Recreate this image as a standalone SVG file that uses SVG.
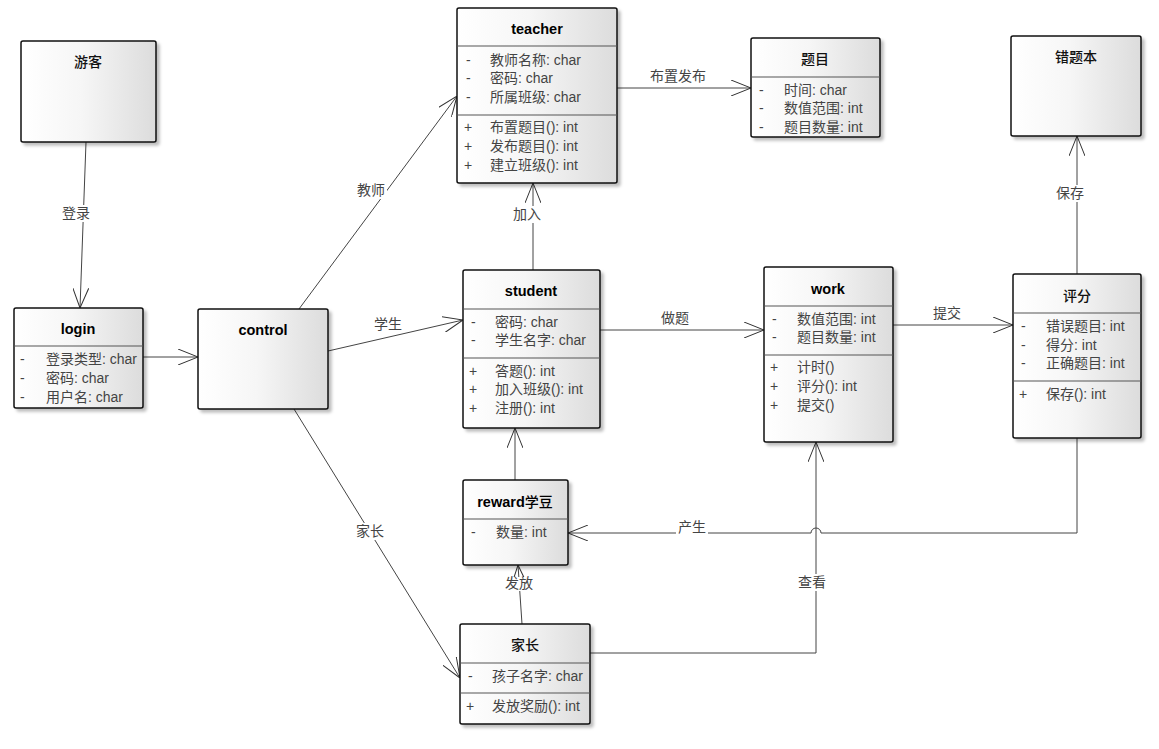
<svg xmlns="http://www.w3.org/2000/svg" width="1159" height="749" viewBox="0 0 1159 749">
<defs>
<linearGradient id="g" x1="0" y1="0" x2="1" y2="0">
<stop offset="0" stop-color="#ffffff"/>
<stop offset="0.45" stop-color="#f6f6f6"/>
<stop offset="1" stop-color="#dcdcdc"/>
</linearGradient>
<filter id="sh" x="-10%" y="-10%" width="130%" height="130%">
<feDropShadow dx="3" dy="3" stdDeviation="1.5" flood-color="#000" flood-opacity="0.25"/>
</filter>
<marker id="arr" viewBox="0 0 20 16" refX="20" refY="8" markerWidth="20" markerHeight="16" markerUnits="userSpaceOnUse" orient="auto">
<path d="M0,0 L20,8 L0,16" fill="none" stroke="#333" stroke-width="1"/>
</marker>
</defs>
<style>
.box{fill:url(#g);stroke:#111;stroke-width:1.5;filter:url(#sh)}
.sep{stroke:#555;stroke-width:1.2}
.t{font-family:"Liberation Sans","Noto Sans CJK SC",sans-serif;font-size:14.5px;font-weight:bold;fill:#000;text-anchor:middle}
.tc{font-family:"Noto Sans CJK SC",sans-serif;font-size:14px;font-weight:500;fill:#111;text-anchor:middle}
.a{font-family:"Liberation Sans","Noto Sans CJK SC",sans-serif;font-size:14px;fill:#444}
.c{fill:none;stroke:#444;stroke-width:1}
.l{font-family:"Liberation Sans","Noto Sans CJK SC",sans-serif;font-size:14px;fill:#444;text-anchor:middle}
.bg{fill:#fff}
</style>
<rect width="1159" height="749" fill="#fff"/>

<g id="connectors">
<line class="c" x1="86" y1="142" x2="80" y2="308" marker-end="url(#arr)"/>
<line class="c" x1="143" y1="357" x2="198" y2="357" marker-end="url(#arr)"/>
<line class="c" x1="299" y1="309" x2="457" y2="96" marker-end="url(#arr)"/>
<line class="c" x1="328" y1="351" x2="463" y2="320" marker-end="url(#arr)"/>
<line class="c" x1="294" y1="409" x2="460" y2="678" marker-end="url(#arr)"/>
<line class="c" x1="533" y1="270" x2="533" y2="183" marker-end="url(#arr)"/>
<line class="c" x1="617" y1="88" x2="751" y2="88" marker-end="url(#arr)"/>
<line class="c" x1="600" y1="330" x2="764" y2="330" marker-end="url(#arr)"/>
<line class="c" x1="893" y1="325" x2="1013" y2="325" marker-end="url(#arr)"/>
<line class="c" x1="1077" y1="274" x2="1077" y2="136" marker-end="url(#arr)"/>
<path class="c" d="M1077,438 V533 H821 A5,5 0 0 0 811,533 H568" marker-end="url(#arr)"/>
<path class="c" d="M590,653 H816 V442" marker-end="url(#arr)"/>
<line class="c" x1="522" y1="624" x2="518" y2="565" marker-end="url(#arr)"/>
<line class="c" x1="515" y1="480" x2="515" y2="428" marker-end="url(#arr)"/>

<rect class="bg" x="60" y="205" width="32" height="17"/><text class="l" x="76" y="218">登录</text>
<rect class="bg" x="355" y="182" width="32" height="17"/><text class="l" x="371" y="195">教师</text>
<text class="l" x="388" y="329">学生</text>
<rect class="bg" x="354" y="523" width="32" height="17"/><text class="l" x="370" y="536">家长</text>
<rect class="bg" x="511" y="206" width="32" height="17"/><text class="l" x="527" y="219">加入</text>
<text class="l" x="678" y="81">布置发布</text>
<text class="l" x="675" y="323">做题</text>
<text class="l" x="947" y="318">提交</text>
<rect class="bg" x="1054" y="185" width="32" height="17"/><text class="l" x="1070" y="198">保存</text>
<rect class="bg" x="676" y="519" width="32" height="17"/><text class="l" x="692" y="532">产生</text>
<rect class="bg" x="796" y="574" width="32" height="17"/><text class="l" x="812" y="587">查看</text>
<rect class="bg" x="503" y="577" width="32" height="14"/><text class="l" x="519" y="588">发放</text>
</g>

<g id="youke">
<rect class="box" x="21" y="41" width="135" height="101" rx="2"/>
<text class="tc" x="88" y="67">游客</text>
</g>

<g id="login">
<rect class="box" x="14" y="308" width="129" height="100" rx="2"/>
<text class="t" x="78" y="334">login</text>
<line class="sep" x1="14" y1="346" x2="143" y2="346"/>
<text class="a" x="20" y="364">-</text><text class="a" x="46" y="364">登录类型: char</text>
<text class="a" x="20" y="383">-</text><text class="a" x="46" y="383">密码: char</text>
<text class="a" x="20" y="402">-</text><text class="a" x="46" y="402">用户名: char</text>
</g>

<g id="control">
<rect class="box" x="198" y="309" width="130" height="100" rx="2"/>
<text class="t" x="263" y="335">control</text>
</g>

<g id="teacher">
<rect class="box" x="457" y="8" width="160" height="175" rx="2"/>
<text class="t" x="537" y="34">teacher</text>
<line class="sep" x1="457" y1="46" x2="617" y2="46"/>
<text class="a" x="466" y="65">-</text><text class="a" x="490" y="65">教师名称: char</text>
<text class="a" x="466" y="83">-</text><text class="a" x="490" y="83">密码: char</text>
<text class="a" x="466" y="102">-</text><text class="a" x="490" y="102">所属班级: char</text>
<line class="sep" x1="457" y1="115" x2="617" y2="115"/>
<text class="a" x="464" y="132">+</text><text class="a" x="490" y="132">布置题目(): int</text>
<text class="a" x="464" y="151">+</text><text class="a" x="490" y="151">发布题目(): int</text>
<text class="a" x="464" y="170">+</text><text class="a" x="490" y="170">建立班级(): int</text>
</g>

<g id="timu">
<rect class="box" x="751" y="38" width="129" height="99" rx="2"/>
<text class="tc" x="815" y="64">题目</text>
<line class="sep" x1="751" y1="77" x2="880" y2="77"/>
<text class="a" x="759" y="95">-</text><text class="a" x="784" y="95">时间: char</text>
<text class="a" x="759" y="113">-</text><text class="a" x="784" y="113">数值范围: int</text>
<text class="a" x="759" y="132">-</text><text class="a" x="784" y="132">题目数量: int</text>
</g>

<g id="cuotiben">
<rect class="box" x="1011" y="36" width="130" height="100" rx="2"/>
<text class="tc" x="1076" y="62">错题本</text>
</g>

<g id="student">
<rect class="box" x="463" y="270" width="137" height="158" rx="2"/>
<text class="t" x="531" y="296">student</text>
<line class="sep" x1="463" y1="309" x2="600" y2="309"/>
<text class="a" x="471" y="327">-</text><text class="a" x="495" y="327">密码: char</text>
<text class="a" x="471" y="345">-</text><text class="a" x="495" y="345">学生名字: char</text>
<line class="sep" x1="463" y1="358" x2="600" y2="358"/>
<text class="a" x="469" y="376">+</text><text class="a" x="495" y="376">答题(): int</text>
<text class="a" x="469" y="394">+</text><text class="a" x="495" y="394">加入班级(): int</text>
<text class="a" x="469" y="413">+</text><text class="a" x="495" y="413">注册(): int</text>
</g>

<g id="work">
<rect class="box" x="764" y="267" width="129" height="175" rx="2"/>
<text class="t" x="828" y="294">work</text>
<line class="sep" x1="764" y1="306" x2="893" y2="306"/>
<text class="a" x="772" y="324">-</text><text class="a" x="797" y="324">数值范围: int</text>
<text class="a" x="772" y="342">-</text><text class="a" x="797" y="342">题目数量: int</text>
<line class="sep" x1="764" y1="355" x2="893" y2="355"/>
<text class="a" x="770" y="372">+</text><text class="a" x="797" y="372">计时()</text>
<text class="a" x="770" y="391">+</text><text class="a" x="797" y="391">评分(): int</text>
<text class="a" x="770" y="410">+</text><text class="a" x="797" y="410">提交()</text>
</g>

<g id="pingfen">
<rect class="box" x="1013" y="274" width="128" height="164" rx="2"/>
<text class="tc" x="1077" y="301">评分</text>
<line class="sep" x1="1013" y1="313" x2="1141" y2="313"/>
<text class="a" x="1021" y="331">-</text><text class="a" x="1046" y="331">错误题目: int</text>
<text class="a" x="1021" y="350">-</text><text class="a" x="1046" y="350">得分: int</text>
<text class="a" x="1021" y="368">-</text><text class="a" x="1046" y="368">正确题目: int</text>
<line class="sep" x1="1013" y1="381" x2="1141" y2="381"/>
<text class="a" x="1019" y="399">+</text><text class="a" x="1046" y="399">保存(): int</text>
</g>

<g id="reward">
<rect class="box" x="463" y="480" width="105" height="85" rx="2"/>
<text class="t" x="515" y="507">reward<tspan style="font-family:'Noto Sans CJK SC',sans-serif;font-weight:500;font-size:14px">学豆</tspan></text>
<line class="sep" x1="463" y1="519" x2="568" y2="519"/>
<text class="a" x="471" y="537">-</text><text class="a" x="496" y="537">数量: int</text>
</g>

<g id="jiazhang">
<rect class="box" x="460" y="624" width="130" height="100" rx="2"/>
<text class="tc" x="525" y="650">家长</text>
<line class="sep" x1="460" y1="663" x2="590" y2="663"/>
<text class="a" x="468" y="681">-</text><text class="a" x="492" y="681">孩子名字: char</text>
<line class="sep" x1="460" y1="693" x2="590" y2="693"/>
<text class="a" x="466" y="711">+</text><text class="a" x="492" y="711">发放奖励(): int</text>
</g>
</svg>
